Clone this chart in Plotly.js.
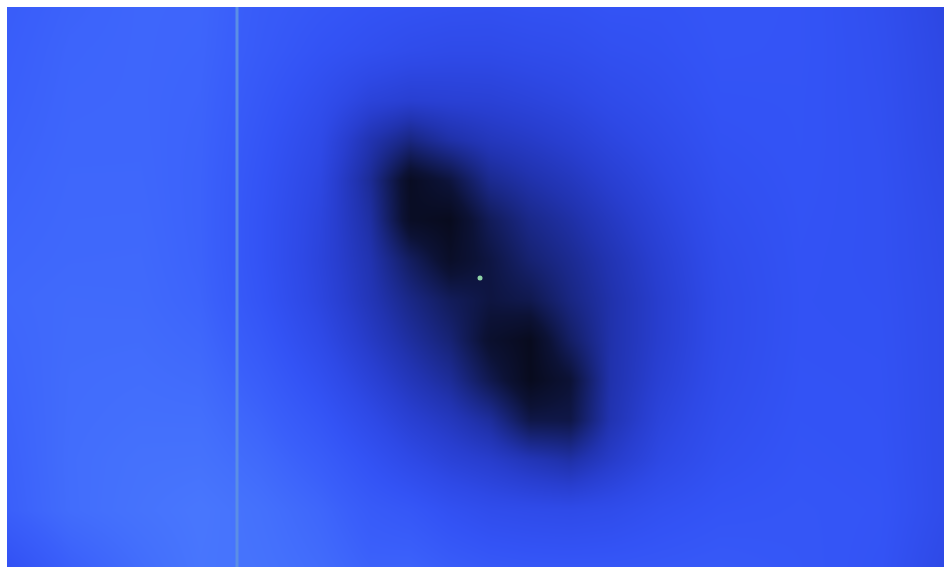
<!DOCTYPE html>
<html>
<head>
<meta charset="utf-8">
<script src="https://cdn.plot.ly/plotly-3.0.1.min.js"></script>
<style>html,body{margin:0;padding:0;background:#fff;}#chart{width:944px;height:569px;}</style>
</head>
<body>
<div id="chart"></div>
<script>
// grid positions (data coordinates)
const gridX = [7, 70, 140, 200, 260, 320, 370, 410, 450, 490, 530, 570, 610, 660, 720, 800, 880, 944];
const gridY = [7, 50, 100, 140, 180, 220, 260, 300, 340, 380, 420, 460, 510, 567];
// field values (0 = darkest, 1 = lightest)
const row007 = [0.78, 0.82, 0.84, 0.836, 0.77, 0.73, 0.70, 0.686, 0.674, 0.669, 0.68, 0.684, 0.70, 0.70, 0.72, 0.71, 0.66, 0.58];
const row050 = [0.79, 0.83, 0.84, 0.832, 0.762, 0.70, 0.663, 0.634, 0.618, 0.618, 0.633, 0.646, 0.67, 0.685, 0.715, 0.71, 0.665, 0.59];
const row100 = [0.80, 0.836, 0.84, 0.825, 0.738, 0.648, 0.546, 0.511, 0.522, 0.53, 0.554, 0.582, 0.62, 0.656, 0.702, 0.706, 0.67, 0.596];
const row140 = [0.81, 0.84, 0.842, 0.82, 0.72, 0.609, 0.402, 0.282, 0.376, 0.438, 0.474, 0.516, 0.569, 0.623, 0.687, 0.705, 0.674, 0.60];
const row180 = [0.82, 0.846, 0.846, 0.816, 0.706, 0.579, 0.331, 0.02, 0.121, 0.318, 0.387, 0.442, 0.51, 0.586, 0.669, 0.701, 0.678, 0.61];
const row220 = [0.83, 0.85, 0.851, 0.816, 0.698, 0.561, 0.365, 0.033, 0.0, 0.187, 0.304, 0.372, 0.454, 0.549, 0.651, 0.697, 0.68, 0.62];
const row260 = [0.84, 0.855, 0.857, 0.819, 0.699, 0.553, 0.40, 0.204, 0.045, 0.132, 0.245, 0.322, 0.41, 0.518, 0.634, 0.694, 0.68, 0.625];
const row300 = [0.85, 0.866, 0.863, 0.828, 0.712, 0.568, 0.423, 0.296, 0.19, 0.126, 0.16, 0.284, 0.387, 0.50, 0.624, 0.691, 0.684, 0.63];
const row340 = [0.84, 0.87, 0.873, 0.848, 0.745, 0.61, 0.468, 0.357, 0.252, 0.068, 0.0, 0.214, 0.386, 0.503, 0.625, 0.693, 0.688, 0.63];
const row380 = [0.83, 0.876, 0.884, 0.87, 0.784, 0.665, 0.535, 0.431, 0.339, 0.161, 0.0, 0.098, 0.387, 0.522, 0.634, 0.698, 0.692, 0.63];
const row420 = [0.82, 0.879, 0.895, 0.893, 0.824, 0.725, 0.611, 0.517, 0.445, 0.349, 0.146, 0.143, 0.402, 0.554, 0.65, 0.704, 0.695, 0.63];
const row460 = [0.81, 0.883, 0.91, 0.914, 0.861, 0.782, 0.686, 0.607, 0.54, 0.493, 0.425, 0.377, 0.48, 0.592, 0.671, 0.712, 0.70, 0.63];
const row510 = [0.80, 0.88, 0.92, 0.95, 0.904, 0.843, 0.766, 0.734, 0.677, 0.639, 0.625, 0.617, 0.633, 0.676, 0.71, 0.724, 0.71, 0.63];
const row567 = [0.68, 0.80, 0.88, 0.94, 0.918, 0.874, 0.816, 0.82, 0.775, 0.745, 0.732, 0.728, 0.73, 0.739, 0.752, 0.73, 0.70, 0.60];
// reference line and marked point
const refLineX = 237;
const pointX = [480];
const pointY = [278];

const zField = [row007, row050, row100, row140, row180, row220, row260, row300, row340, row380, row420, row460, row510, row567];

const colorscale = [
  [0.0, '#080b1e'], [0.1, '#0c1236'], [0.2, '#131d5e'], [0.3, '#1a2888'],
  [0.4, '#2133b0'], [0.5, '#283ecf'], [0.6, '#2e49e6'], [0.7, '#3353f5'],
  [0.8, '#3a5ffa'], [0.9, '#4470fc'], [1.0, '#4d7dfe']
];

const traces = [
  {
    type: 'heatmap', x: gridX, y: gridY, z: zField,
    zmin: 0, zmax: 1, zsmooth: 'best', colorscale: colorscale,
    showscale: false, hoverinfo: 'skip'
  },
  {
    type: 'scatter', mode: 'markers', x: pointX, y: pointY,
    marker: {size: 5, color: '#8fd4a8', line: {width: 0}},
    hoverinfo: 'skip', showlegend: false
  }
];

const layout = {
  width: 944, height: 569,
  margin: {l: 7, r: 0, t: 7, b: 2, pad: 0},
  paper_bgcolor: '#ffffff', plot_bgcolor: '#3a5ffa',
  showlegend: false,
  xaxis: {range: [7, 944], visible: false, showgrid: false, zeroline: false, fixedrange: true},
  yaxis: {range: [567, 7], visible: false, showgrid: false, zeroline: false, fixedrange: true},
  shapes: [
    {type: 'line', xref: 'x', yref: 'paper', x0: refLineX, x1: refLineX, y0: 0, y1: 1,
     line: {color: '#5b8ee6', width: 3}}
  ]
};

Plotly.newPlot('chart', traces, layout, {displayModeBar: false, staticPlot: true});
</script>
</body>
</html>
